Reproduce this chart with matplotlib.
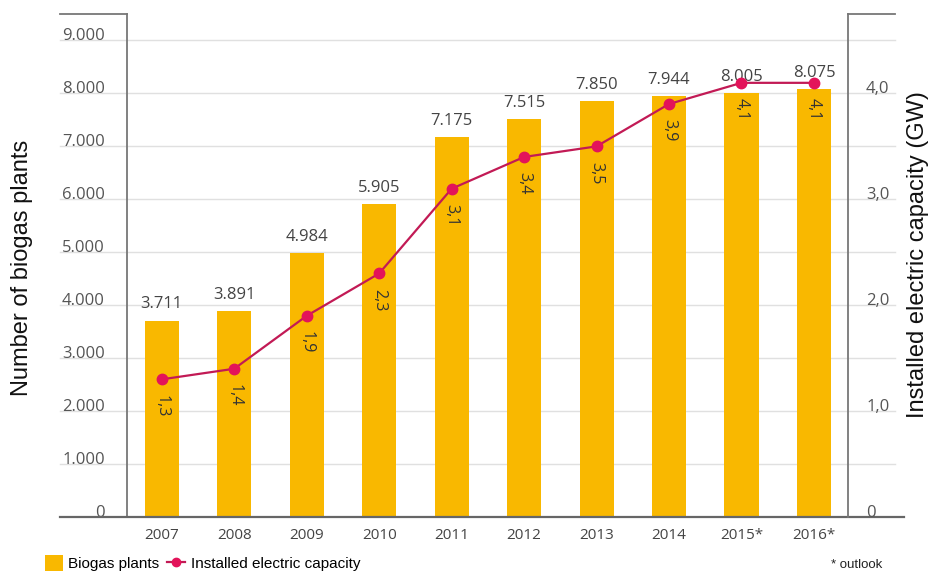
import matplotlib
matplotlib.use("Agg")
import matplotlib.pyplot as plt
import matplotlib.transforms as mtransforms
from matplotlib.lines import Line2D
from matplotlib.patches import Patch
import numpy as np

years = ["2007", "2008", "2009", "2010", "2011", "2012", "2013", "2014", "2015*", "2016*"]
plants = [3711, 3891, 4984, 5905, 7175, 7515, 7850, 7944, 8005, 8075]
capacity = [1.3, 1.4, 1.9, 2.3, 3.1, 3.4, 3.5, 3.9, 4.1, 4.1]
left_ticks = [0, 1000, 2000, 3000, 4000, 5000, 6000, 7000, 8000, 9000]
left_tick_labels = ["0", "1.000", "2.000", "3.000", "4.000", "5.000", "6.000", "7.000", "8.000", "9.000"]
right_ticks = [0, 1, 2, 3, 4]
right_tick_labels = ["0", "1,0", "2,0", "3,0", "4,0"]

BAR = "#F9B800"
LINE = "#C21A55"
MARK = "#E3135A"
TXT = "#444444"
NUM_FONT = ["Open Sans", "DejaVu Sans"]
LAB_FONT = ["Liberation Sans", "DejaVu Sans"]

fig = plt.figure(figsize=(9.3, 5.82), dpi=100)
ax = fig.add_axes([127 / 930, 1 - 517 / 582, (848 - 127) / 930, (517 - 14) / 582])
ax2 = ax.twinx()

x = np.arange(len(years))
ax.set_xlim(-0.48, len(years) - 0.53)
ax.set_ylim(0, 9500)
ax2.set_ylim(0, 9500 / 2000)

# grid lines reaching under the tick labels on both sides
for v in left_ticks[1:]:
    ax.axhline(v, xmin=-0.093, xmax=1.065, color="#e0e0e0", lw=1.0, zorder=0, clip_on=False)

bars = ax.bar(x, plants, width=0.47, color=BAR, zorder=2)
for xi, v in zip(x, plants):
    ax.annotate(f"{v:,}".replace(",", "."), (xi, v), xytext=(0, 6), textcoords="offset points",
                ha="center", va="bottom", fontsize=12, color=TXT, family=NUM_FONT)

line, = ax2.plot(x, capacity, color=LINE, lw=1.6, marker="o", markersize=7.5,
                 markerfacecolor=MARK, markeredgecolor=MARK, zorder=3)
for xi, v in zip(x, capacity):
    ax2.annotate(f"{v:.1f}".replace(".", ","), (xi, v), xytext=(0, -11), textcoords="offset points",
                 ha="center", va="top", rotation=270, fontsize=11.5, color="#333333", family=NUM_FONT)

# axes frame
for a in (ax, ax2):
    for s in ("top", "bottom"):
        a.spines[s].set_visible(False)
ax.spines["left"].set_color("#777777")
ax.spines["left"].set_linewidth(1.3)
ax2.spines["right"].set_color("#777777")
ax2.spines["right"].set_linewidth(1.3)
ax2.spines["left"].set_visible(False)
ax.spines["right"].set_visible(False)

ax.plot([-0.093, 1.078], [0, 0], transform=ax.transAxes, color="#666666", lw=1.6, clip_on=False, zorder=5)
ax.plot([-0.093, 0], [1, 1], transform=ax.transAxes, color="#777777", lw=1.3, clip_on=False)
ax.plot([1, 1.065], [1, 1], transform=ax.transAxes, color="#777777", lw=1.3, clip_on=False)

ax.set_xticks(x)
ax.set_xticklabels(years, fontsize=11, color=TXT, family=NUM_FONT)
ax.tick_params(axis="x", length=0, pad=8)

ax.set_yticks(left_ticks)
ax.set_yticklabels(left_tick_labels, fontsize=12, color="#555555", family=NUM_FONT)
ax.tick_params(axis="y", length=0, pad=16)
ax2.set_yticks(right_ticks)
ax2.set_yticklabels(right_tick_labels, fontsize=12, color="#555555", family=NUM_FONT)
ax2.tick_params(axis="y", length=0, pad=13)

shift = mtransforms.ScaledTranslation(0, 6 / 100, fig.dpi_scale_trans)
for lab in ax.get_yticklabels() + ax2.get_yticklabels():
    lab.set_transform(lab.get_transform() + shift)

fig.text(22 / 930, 1 - 268 / 582, "Number of biogas plants", rotation=90, ha="center", va="center",
         fontsize=17, color="#111111", family=LAB_FONT)
fig.text(918 / 930, 1 - 255 / 582, "Installed electric capacity (GW)", rotation=90, ha="center",
         va="center", fontsize=17, color="#111111", family=LAB_FONT)

handles = [Patch(facecolor=BAR, edgecolor="none"),
           Line2D([], [], color=LINE, lw=1.6, marker="o", markersize=6,
                  markerfacecolor=MARK, markeredgecolor=MARK)]
fig.legend(handles, ["Biogas plants", "Installed electric capacity"], loc="lower left",
           bbox_to_anchor=(34 / 930, 0.0), ncol=2, frameon=False, handlelength=1.2,
           handleheight=1.2, handletextpad=0.35, columnspacing=0.5, borderpad=0.2,
           prop={"family": LAB_FONT, "size": 11})
fig.text(857 / 930, 1 - 565 / 582, "* outlook", ha="center", va="center", fontsize=9.5,
         color="#222222", family=LAB_FONT)

fig.savefig("out.png", dpi=100)
